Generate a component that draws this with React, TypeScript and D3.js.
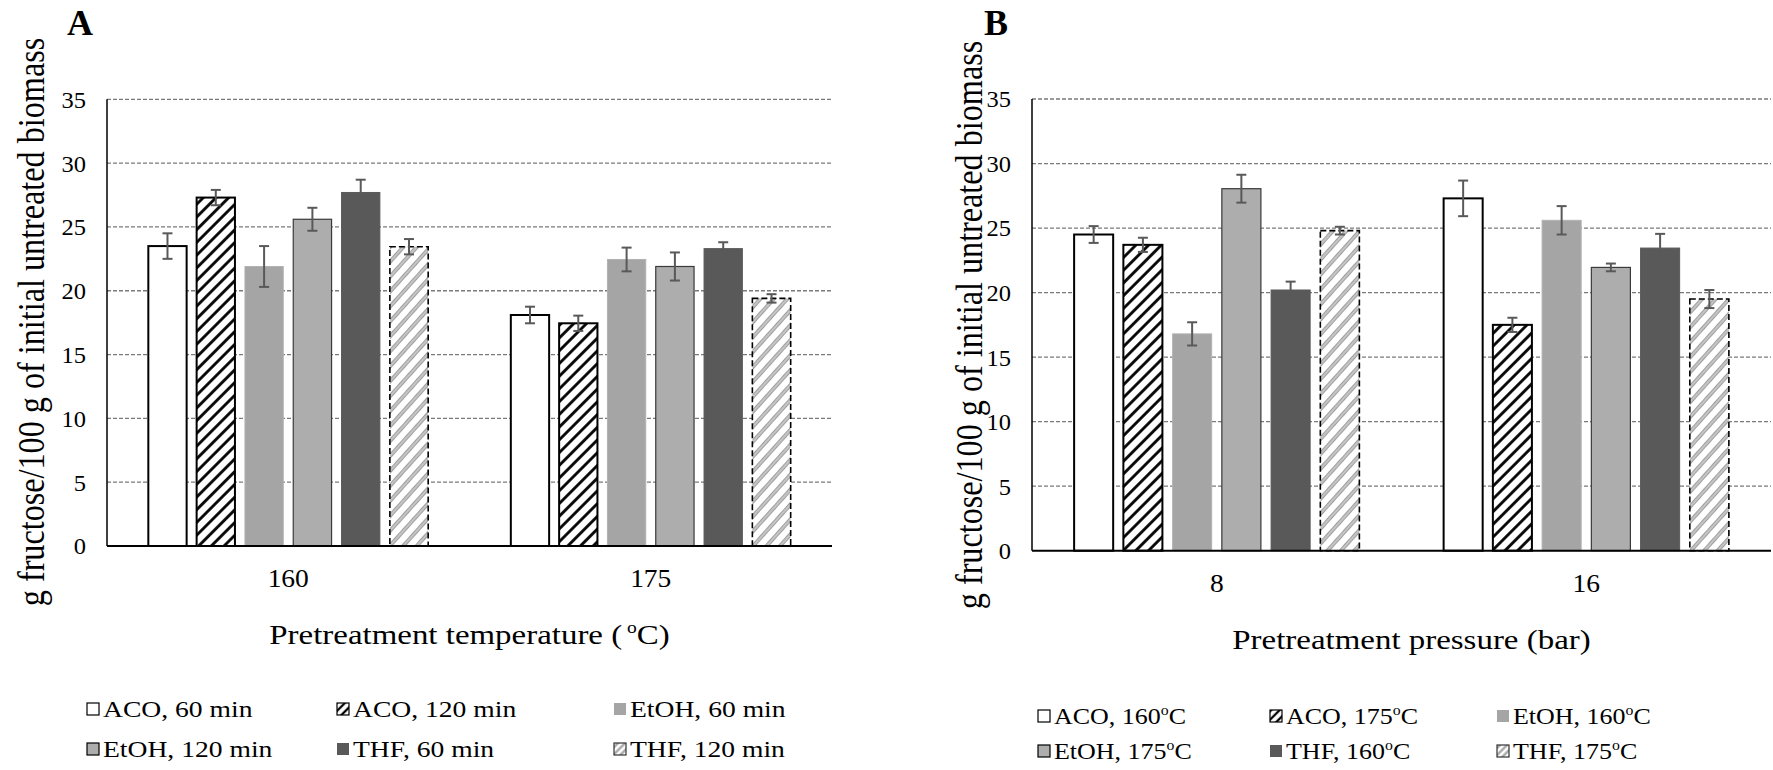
import React from 'react';
import * as d3 from 'd3';

// ---------- DATA ----------
const seriesKeys = ['s0', 's1', 's2', 's3', 's4', 's5'];

const categoriesA = ['160', '175'];
const labelsA = ['ACO, 60 min', 'ACO, 120 min', 'EtOH, 60 min', 'EtOH, 120 min', 'THF, 60 min', 'THF, 120 min'];
const aco60 = [23.5, 18.1];
const aco60Err = [1.0, 0.65];
const aco120 = [27.3, 17.45];
const aco120Err = [0.6, 0.6];
const etoh60 = [21.9, 22.45];
const etoh60Err = [1.6, 0.93];
const etoh120 = [25.6, 21.9];
const etoh120Err = [0.9, 1.1];
const thf60 = [27.7, 23.3];
const thf60Err = [1.0, 0.5];
const thf120 = [23.45, 19.4];
const thf120Err = [0.6, 0.33];

const categoriesB = ['8', '16'];
const labelsBName = ['ACO, ', 'ACO, ', 'EtOH, ', 'EtOH, ', 'THF, ', 'THF, '];
const labelsBTemp = ['160', '175', '160', '175', '160', '175'];
const aco160 = [24.5, 27.3];
const aco160Err = [0.65, 1.38];
const aco175 = [23.7, 17.5];
const aco175Err = [0.55, 0.55];
const etoh160 = [16.8, 25.6];
const etoh160Err = [0.9, 1.1];
const etoh175 = [28.05, 21.95];
const etoh175Err = [1.08, 0.3];
const thf160 = [20.2, 23.45];
const thf160Err = [0.65, 1.1];
const thf175 = [24.8, 19.5];
const thf175Err = [0.3, 0.7];

const yTicks = [0, 5, 10, 15, 20, 25, 30, 35];

const valuesA = [aco60, aco120, etoh60, etoh120, thf60, thf120];
const errorsA = [aco60Err, aco120Err, etoh60Err, etoh120Err, thf60Err, thf120Err];
const valuesB = [aco160, aco175, etoh160, etoh175, thf160, thf175];
const errorsB = [aco160Err, aco175Err, etoh160Err, etoh175Err, thf160Err, thf175Err];

// ---------- STYLE ----------
const FONT = "'Liberation Serif', 'Times New Roman', Times, serif";
const styles = [
  { fill: '#ffffff', stroke: '#000', sw: 2, dash: null as string | null },
  { fill: 'url(#hatchBlack)', stroke: '#000', sw: 2, dash: null },
  { fill: '#a5a5a5', stroke: '#b2b2b2', sw: 1, dash: null },
  { fill: '#adadad', stroke: '#3a3a3a', sw: 1.2, dash: null },
  { fill: '#595959', stroke: '#595959', sw: 1, dash: null },
  { fill: 'url(#hatchGray)', stroke: '#000', sw: 1.6, dash: '6,3' },
];
const legendStyles = [
  { fill: '#ffffff', stroke: '#000' },
  { fill: 'url(#hatchBlackSm)', stroke: '#000' },
  { fill: '#a5a5a5', stroke: 'none' },
  { fill: '#adadad', stroke: '#000' },
  { fill: '#595959', stroke: 'none' },
  { fill: 'url(#hatchGraySm)', stroke: '#333' },
];

type TProps = {
  x: number; y: number; anchor?: string; size: number; sx?: number; bold?: boolean;
  baseline?: string; children?: React.ReactNode; rotate?: number;
};
// sx stretches horizontally in page coordinates (the reference is horizontally stretched)
function T({ x, y, anchor = 'start', size, sx = 1, bold = false, baseline = 'auto', children, rotate = 0 }: TProps) {
  return (
    <text
      transform={`translate(${x},${y}) scale(${sx},1) rotate(${rotate})`}
      textAnchor={anchor as any}
      dominantBaseline={baseline as any}
      fontSize={size}
      fontWeight={bold ? 'bold' : 'normal'}
      fontFamily={FONT}
      fill="#000"
    >
      {children}
    </text>
  );
}

type PanelProps = {
  left: number; right: number; top: number; bottom: number;
  categories: string[]; values: number[][]; errors: number[][];
};

function Panel({ left, right, top, bottom, categories, values, errors }: PanelProps) {
  const y = d3.scaleLinear().domain([0, 35]).range([bottom, top]);
  const x0 = d3.scaleBand().domain(categories).range([left, right]).padding(0);
  const span = x0.bandwidth() * 0.772;
  const x1 = d3.scaleBand().domain(seriesKeys).range([-span / 2, span / 2]).paddingInner(0.207).paddingOuter(0);
  const bw = x1.bandwidth();
  return (
    <g>
      {yTicks.filter((t) => t > 0).map((t) => (
        <line key={t} x1={left} x2={right} y1={y(t)} y2={y(t)} stroke="#7a7a7a" strokeWidth={1.3} strokeDasharray="4,2" />
      ))}
      {seriesKeys.map((k, si) =>
        categories.map((c, ci) => {
          const v = values[si][ci];
          const cx = (x0(c) as number) + x0.bandwidth() / 2 + (x1(k) as number);
          const st = styles[si];
          return (
            <rect key={k + c} x={cx} y={y(v)} width={bw} height={y(0) - y(v)}
              fill={st.fill} stroke={st.stroke} strokeWidth={st.sw} strokeDasharray={st.dash || undefined} />
          );
        })
      )}
      <line x1={left} x2={left} y1={top} y2={bottom} stroke="#000" strokeWidth={1.5} />
      <line x1={left} x2={right} y1={bottom} y2={bottom} stroke="#000" strokeWidth={2} />
      {seriesKeys.map((k, si) =>
        categories.map((c, ci) => {
          const v = values[si][ci];
          const e = errors[si][ci];
          const mx = (x0(c) as number) + x0.bandwidth() / 2 + (x1(k) as number) + bw / 2;
          return (
            <g key={'e' + k + c} stroke="#595959" strokeWidth={2}>
              <line x1={mx} x2={mx} y1={y(v + e)} y2={y(v - e)} />
              <line x1={mx - 5} x2={mx + 5} y1={y(v + e)} y2={y(v + e)} />
              <line x1={mx - 5} x2={mx + 5} y1={y(v - e)} y2={y(v - e)} />
            </g>
          );
        })
      )}
      {yTicks.map((t) => (
        <T key={'t' + t} x={left - 21} y={y(t)} anchor="end" baseline="central" size={24} sx={1.02}>{t}</T>
      ))}
      {categories.map((c) => (
        <T key={'c' + c} x={(x0(c) as number) + x0.bandwidth() / 2} y={bottom + 41} anchor="middle" size={25} sx={1.1}>{c}</T>
      ))}
    </g>
  );
}

function LegendItem({ x, y, si, sx, children }: { x: number; y: number; si: number; sx: number; children: React.ReactNode }) {
  const ls = legendStyles[si];
  return (
    <g>
      <rect x={x} y={y - 6} width={12} height={12} fill={ls.fill} stroke={ls.stroke} strokeWidth={1.2} />
      <T x={x + 16} y={y + 8} size={23} sx={sx}>{children}</T>
    </g>
  );
}

export default function App() {
  const A = { left: 107, right: 832, top: 99.3, bottom: 546 };
  const B = { left: 1032, right: 1771, top: 99, bottom: 550.7 };
  const legColsA = [87, 337, 614];
  const legRowsA = [709, 749];
  const legColsB = [1038, 1270, 1497];
  const legRowsB = [716, 751];
  return (
    <svg width={1773} height={770} style={{ position: 'absolute', left: 0, top: 0, background: '#fff' }}>
      <defs>
        <pattern id="hatchBlack" patternUnits="userSpaceOnUse" width={9} height={9} patternTransform="rotate(45)">
          <rect width={9} height={9} fill="#fff" />
          <line x1={4.5} y1={-1} x2={4.5} y2={10} stroke="#000" strokeWidth={2.8} />
        </pattern>
        <pattern id="hatchGray" patternUnits="userSpaceOnUse" width={10} height={10} patternTransform="rotate(42)">
          <rect width={10} height={10} fill="#fff" />
          <line x1={5} y1={-1} x2={5} y2={11} stroke="#a0a0a0" strokeWidth={4} />
          <line x1={5} y1={-1} x2={5} y2={11} stroke="#e8e8e8" strokeWidth={1} />
        </pattern>
        <pattern id="hatchBlackSm" patternUnits="userSpaceOnUse" width={6} height={6} patternTransform="rotate(45)">
          <rect width={6} height={6} fill="#fff" />
          <line x1={3} y1={-1} x2={3} y2={7} stroke="#000" strokeWidth={2.3} />
        </pattern>
        <pattern id="hatchGraySm" patternUnits="userSpaceOnUse" width={5} height={5} patternTransform="rotate(45)">
          <rect width={5} height={5} fill="#fff" />
          <line x1={2.5} y1={-1} x2={2.5} y2={6} stroke="#a0a0a0" strokeWidth={2.2} />
        </pattern>
      </defs>
      <rect x={0} y={0} width={1773} height={770} fill="#fff" />

      <T x={67} y={35} size={36} bold>A</T>
      <T x={984} y={35} size={36} bold>B</T>

      <Panel {...A} categories={categoriesA} values={valuesA} errors={errorsA} />
      <Panel {...B} categories={categoriesB} values={valuesB} errors={errorsB} />

      <T x={31} y={322} rotate={-90} anchor="middle" baseline="central" size={32.2} sx={1.2}>g fructose/100 g of initial untreated biomass</T>
      <T x={969} y={325} rotate={-90} anchor="middle" baseline="central" size={32.2} sx={1.2}>g fructose/100 g of initial untreated biomass</T>

      <T x={(A.left + A.right) / 2} y={A.bottom + 98} anchor="middle" size={27} sx={1.22}>
        Pretreatment temperature (<tspan fontSize={16} dy={-11} dx={4}>o</tspan><tspan dy={11}>C)</tspan>
      </T>
      <T x={(B.left + B.right) / 2 + 10} y={B.bottom + 98} anchor="middle" size={27} sx={1.22}>
        Pretreatment pressure (bar)
      </T>

      {labelsA.map((l, i) => (
        <LegendItem key={'la' + i} x={legColsA[i % 3]} y={legRowsA[Math.floor(i / 3)]} si={i} sx={1.2}>{l}</LegendItem>
      ))}
      {labelsBName.map((l, i) => (
        <LegendItem key={'lb' + i} x={legColsB[i % 3]} y={legRowsB[Math.floor(i / 3)]} si={i} sx={1.13}>
          {l}{labelsBTemp[i]}<tspan fontSize={14} dy={-9}>o</tspan><tspan dy={9}>C</tspan>
        </LegendItem>
      ))}
    </svg>
  );
}
